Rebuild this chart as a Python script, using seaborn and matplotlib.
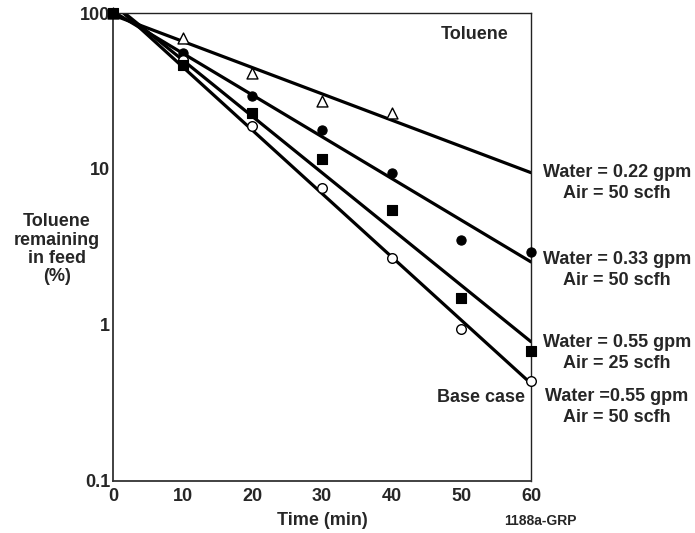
import numpy as np
import pandas as pd
import matplotlib
matplotlib.use("Agg")
import matplotlib.pyplot as plt
import seaborn as sns
from matplotlib.ticker import FixedLocator, FixedFormatter, NullLocator

# Sampling times (min)
time = [0, 10, 20, 30, 40, 50, 60]

# Toluene remaining in feed (%) for each operating condition
water_022_air_50 = [100, 69.2, 41.2, 27.3, 22.9]            # open triangles (t = 0..40)
water_033_air_50 = [100, 55.5, 29.4, 17.8, 9.4, 3.5, 2.94]  # filled circles
water_055_air_25 = [100, 46.4, 22.9, 11.6, 5.46, 1.49, 0.68]  # filled squares
water_055_air_50 = [100, 50.0, 18.9, 7.55, 2.69, 0.94, 0.44]  # open circles (base case)

condition_labels = [
    "Water = 0.22 gpm\nAir = 50 scfh",
    "Water = 0.33 gpm\nAir = 50 scfh",
    "Water = 0.55 gpm\nAir = 25 scfh",
    "Water =0.55 gpm\nAir = 50 scfh",
]

y_ticks = [0.1, 1, 10, 100]
y_tick_labels = ["0.1", "1", "10", "100"]
x_ticks = [0, 10, 20, 30, 40, 50, 60]

sns.set_style("white")
plt.rcParams["font.family"] = ["Liberation Sans", "DejaVu Sans"]
plt.rcParams["font.weight"] = "bold"

fig = plt.figure(figsize=(6.95, 5.33), dpi=100)
ax = fig.add_axes([0.1626, 0.0976, 0.6014, 0.878])

# drawing order keeps the filled square on top at t = 0
series = [
    (water_022_air_50, dict(marker="^", s=62, facecolor="white", edgecolor="black", linewidth=1.0)),
    (water_033_air_50, dict(marker="o", s=44, facecolor="black", edgecolor="black", linewidth=0.8)),
    (water_055_air_50, dict(marker="o", s=48, facecolor="white", edgecolor="black", linewidth=1.0)),
    (water_055_air_25, dict(marker="s", s=50, facecolor="black", edgecolor="black", linewidth=0.8)),
]

t_fit = np.array([0.0, 60.0])
for values, style in series:
    t = np.array(time[:len(values)], dtype=float)
    v = np.array(values, dtype=float)
    # first-order decay: straight-line fit of log10(concentration) against time
    slope, intercept = np.polyfit(t, np.log10(v), 1)
    fit = pd.DataFrame({"t": t_fit, "v": 10 ** (intercept + slope * t_fit)})
    sns.lineplot(data=fit, x="t", y="v", ax=ax, color="black", linewidth=2.3,
                 zorder=2, estimator=None)
for values, style in series:
    df = pd.DataFrame({"t": time[:len(values)], "v": values})
    sns.scatterplot(data=df, x="t", y="v", ax=ax, zorder=4, clip_on=False, **style)

ax.set_yscale("log")
ax.set_xlim(0, 60)
ax.set_ylim(0.1, 100)

ax.yaxis.set_major_locator(FixedLocator(y_ticks))
ax.yaxis.set_major_formatter(FixedFormatter(y_tick_labels))
ax.yaxis.set_minor_locator(NullLocator())
ax.xaxis.set_major_locator(FixedLocator(x_ticks))
ax.xaxis.set_minor_locator(NullLocator())

ax.tick_params(axis="both", which="major", direction="in", length=4.5, width=1.2,
               color="black", labelsize=13)
ax.tick_params(axis="y", pad=2)
ax.tick_params(axis="x", pad=5)
for lab in ax.get_xticklabels() + ax.get_yticklabels():
    lab.set_fontweight("bold")

for side in ["left", "bottom"]:
    ax.spines[side].set_linewidth(1.3)
    ax.spines[side].set_color("#333333")
for side in ["top", "right"]:
    ax.spines[side].set_linewidth(1.0)
    ax.spines[side].set_color("#222222")

ax.set_xlabel("Time (min)", fontsize=13, fontweight="bold", labelpad=5)
ax.set_ylabel("Toluene\nremaining\nin feed\n(%)", fontsize=13, fontweight="bold",
              rotation=0, ha="center", va="center", linespacing=1.1)
ax.yaxis.set_label_coords(-0.134, 0.495)

ax.text(0.865, 0.955, "Toluene", transform=ax.transAxes, fontsize=13,
        fontweight="bold", ha="center", va="center")

label_y_px = [183, 270, 353, 407]
fig_h = 533
for text, ypx in zip(condition_labels, label_y_px):
    fig.text(617 / 695, 1 - ypx / fig_h, text, fontsize=13, fontweight="bold",
             ha="center", va="center", multialignment="center", linespacing=1.25)

fig.text(525 / 695, 1 - 397 / fig_h, "Base case", fontsize=13, fontweight="bold",
         ha="right", va="center")
fig.text(540 / 695, 1 - 521 / fig_h, "1188a-GRP", fontsize=10, fontweight="bold",
         ha="center", va="center")

fig.savefig("out.png", dpi=100)
